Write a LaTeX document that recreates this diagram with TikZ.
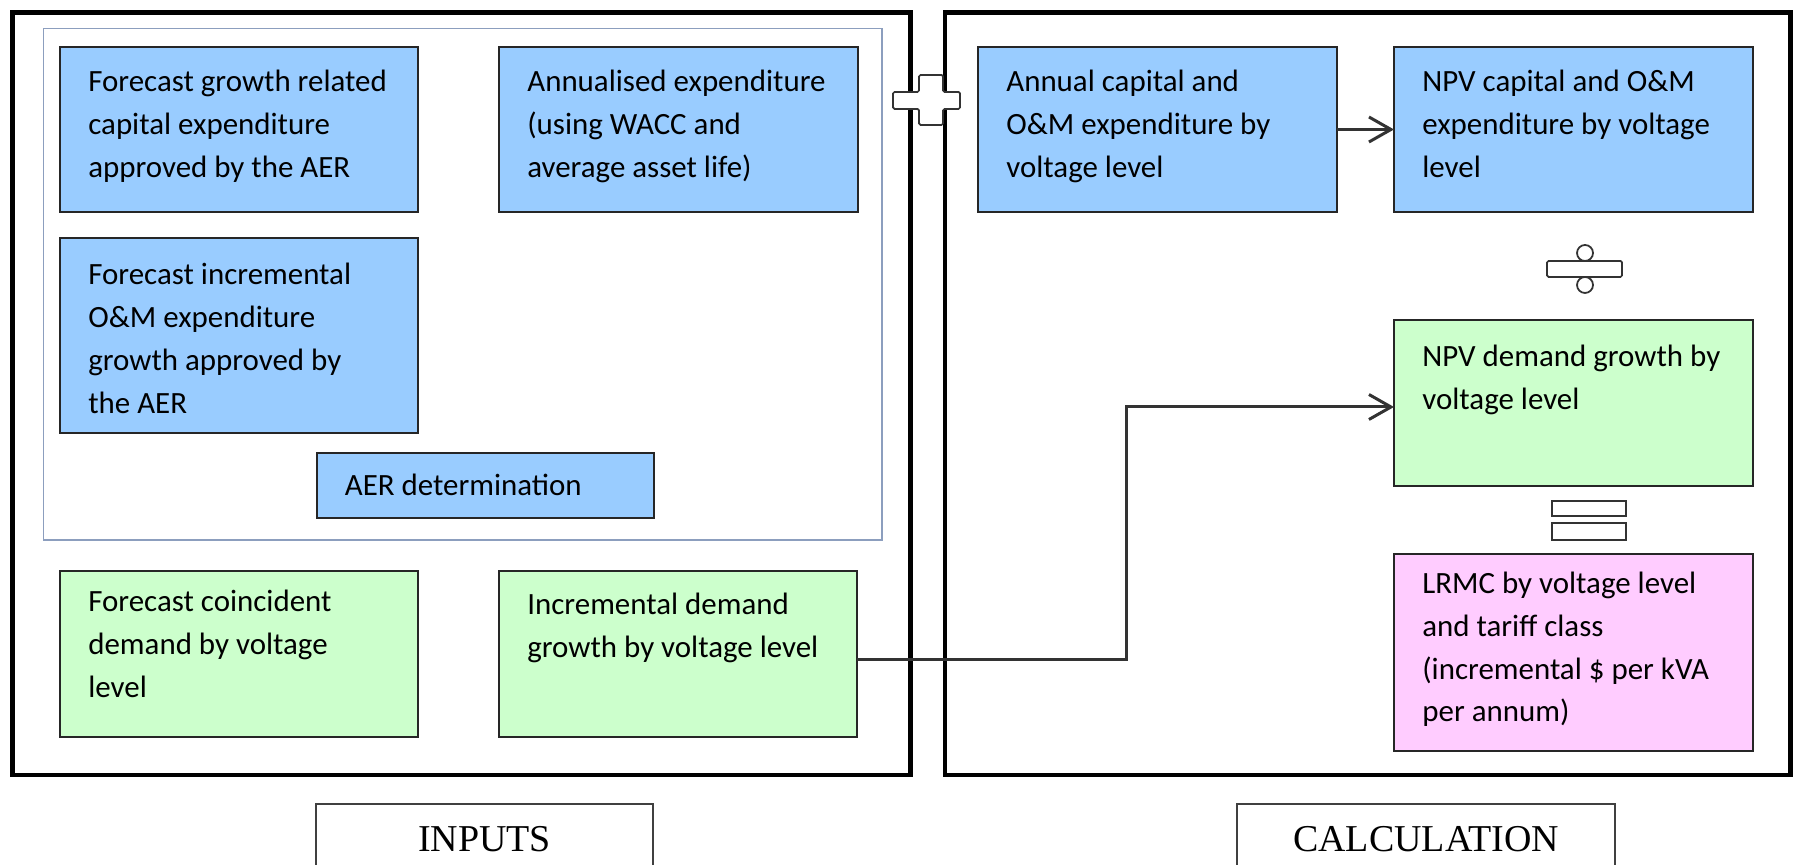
\documentclass[tikz,border=0pt]{standalone}
\usepackage{fontspec}
\usepackage{tikz}
\usetikzlibrary{arrows.meta, positioning, calc}

\newfontfamily\boxfont{Carlito}
\newfontfamily\tagfont{Liberation Serif}
\definecolor{costblue}{HTML}{99CCFF}
\definecolor{demgreen}{HTML}{CCFFCC}
\definecolor{lrmcpink}{HTML}{FFCCFF}
\definecolor{groupline}{RGB}{140,158,190}

\begin{document}
\begin{tikzpicture}[
  frame/.style={draw=black!85, line width=0.04cm, inner sep=0, outer sep=0, anchor=north west},
  costbox/.style={frame, fill=costblue},
  demandbox/.style={frame, fill=demgreen},
  resultbox/.style={frame, fill=lrmcpink},
  boxtxt/.style={anchor=north west, align=left, inner sep=0, font=\boxfont\fontsize{17.6pt}{24.4pt}\selectfont,
    execute at begin node=\strut},
  panel/.style={draw=black, line width=0.09cm},
  tagbox/.style={draw=black!75, line width=0.04cm, fill=white, inner sep=0, outer sep=0, anchor=north west},
  tagtxt/.style={anchor=base, inner sep=0, font=\tagfont\fontsize{21.6pt}{26pt}\selectfont},
  conn/.style={draw=black!80, line width=0.06cm, -{Straight Barb[length=0.44cm, width=0.5cm]}},
  sign/.style={draw=black!80, line width=0.035cm, fill=white}
]
  \useasboundingbox (0,0) rectangle (35.96,17.3);
  \clip (0,0) rectangle (35.96,17.3);

  % Panels
  \draw[panel] (0.25,1.8) rectangle (18.21,17.05);
  \draw[panel] (18.9,1.8) rectangle (35.81,17.05);
  \draw[groupline, line width=0.035cm] (0.87,6.5) rectangle (17.64,16.73);

  % Inputs: AER determination
  \node[costbox, minimum width=7.16cm, minimum height=3.3cm] (capex) at (1.2,16.36) {};
  \node[boxtxt] (capex-t) at ([shift={(0.56,-0.46)}]capex.north west)
    {Forecast growth related\\capital expenditure\\approved by the AER};
  \node[costbox, minimum width=7.18cm, minimum height=3.3cm] (annualised) at (9.98,16.36) {};
  \node[boxtxt] (annualised-t) at ([shift={(0.56,-0.46)}]annualised.north west)
    {Annualised expenditure\\(using WACC and\\average asset life)};
  \node[costbox, minimum width=7.16cm, minimum height=3.9cm] (opex) at (1.2,12.53) {};
  \node[boxtxt] (opex-t) at ([shift={(0.56,-0.49)}]opex.north west)
    {Forecast incremental\\O\&M expenditure\\growth approved by\\the AER};
  \node[costbox, minimum width=6.74cm, minimum height=1.3cm] (aer) at (6.33,8.24) {};
  \node[boxtxt] (aer-t) at ([shift={(0.56,-0.25)}]aer.north west) {AER determination};

  % Inputs: demand
  \node[demandbox, minimum width=7.16cm, minimum height=3.32cm] (coincid) at (1.2,5.88) {};
  \node[boxtxt] (coincid-t) at ([shift={(0.56,-0.38)}]coincid.north west)
    {Forecast coincident\\demand by voltage\\level};
  \node[demandbox, minimum width=7.16cm, minimum height=3.32cm] (incdem) at (9.98,5.88) {};
  \node[boxtxt] (incdem-t) at ([shift={(0.56,-0.44)}]incdem.north west)
    {Incremental demand\\growth by voltage level};

  % Calculation
  \node[costbox, minimum width=7.18cm, minimum height=3.3cm] (annualcost) at (19.56,16.36) {};
  \node[boxtxt] (annualcost-t) at ([shift={(0.56,-0.46)}]annualcost.north west)
    {Annual capital and\\O\&M expenditure by\\voltage level};
  \node[costbox, minimum width=7.18cm, minimum height=3.3cm] (npvcost) at (27.88,16.36) {};
  \node[boxtxt] (npvcost-t) at ([shift={(0.56,-0.46)}]npvcost.north west)
    {NPV capital and O\&M\\expenditure by voltage\\level};
  \node[demandbox, minimum width=7.18cm, minimum height=3.32cm] (npvdem) at (27.88,10.9) {};
  \node[boxtxt] (npvdem-t) at ([shift={(0.56,-0.5)}]npvdem.north west)
    {NPV demand growth by\\voltage level};
  \node[resultbox, minimum width=7.18cm, minimum height=3.94cm] (lrmc) at (27.88,6.22) {};
  \node[boxtxt] (lrmc-t) at ([shift={(0.56,-0.35)}]lrmc.north west)
    {LRMC by voltage level\\and tariff class\\(incremental \$ per kVA\\per annum)};

  % Connectors
  \draw[conn] (annualcost.east) -- (npvcost.west);
  \draw[conn] ([yshift=-0.12cm]incdem.east) -- ++(5.38,0) |- ([yshift=-0.08cm]npvdem.west);

  % Operators
  \draw[sign, rounded corners=0.03cm] (18.38,15.8) -- (18.86,15.8) -- (18.86,15.46) -- (19.2,15.46)
    -- (19.2,15.12) -- (18.86,15.12) -- (18.86,14.8) -- (18.38,14.8) -- (18.38,15.12)
    -- (17.86,15.12) -- (17.86,15.46) -- (18.38,15.46) -- cycle;
  \draw[sign, rounded corners=0.03cm] (30.94,11.76) rectangle (32.44,12.08);
  \draw[sign] (31.7,12.24) circle (0.16);
  \draw[sign] (31.7,11.6) circle (0.16);
  \draw[sign] (31.04,6.98) rectangle (32.52,7.28);
  \draw[sign] (31.04,6.5) rectangle (32.52,6.84);

  % Tags
  \node[tagbox, minimum width=6.74cm, minimum height=2cm] (inputs) at (6.32,1.22) {};
  \node[tagtxt] (inputs-t) at ([yshift=-0.96cm]inputs.north) {INPUTS};
  \node[tagbox, minimum width=7.56cm, minimum height=2cm] (calc) at (24.74,1.22) {};
  \node[tagtxt] (calc-t) at ([yshift=-0.96cm]calc.north) {CALCULATION};
\end{tikzpicture}
\end{document}
